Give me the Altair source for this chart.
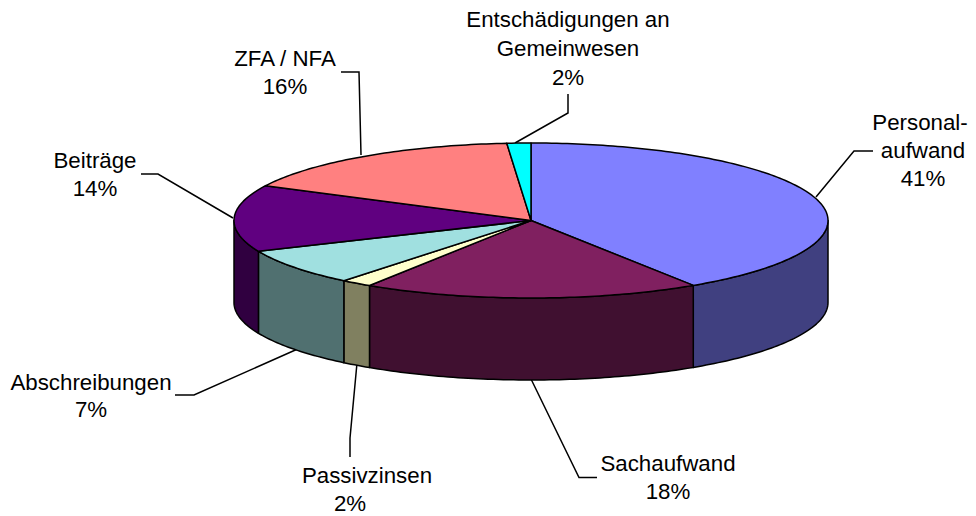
import math
import altair as alt
import pandas as pd

# Data
categories = ["Personalaufwand", "Sachaufwand", "Passivzinsen", "Abschreibungen",
              "Beiträge", "ZFA / NFA", "Entschädigungen an Gemeinwesen"]
shares = [40.8, 18.35, 1.7, 7.65, 13.9, 16.3, 1.3]
top_colors = ["#8080FF", "#802060", "#FFFFCC", "#A0E0E0", "#600080", "#FF8080", "#00FFFF"]
side_colors = ["#404080", "#401030", "#808060", "#507070", "#300040", "#804040", "#008080"]
label_lines = ["Personal-", "aufwand", "41%", "Sachaufwand", "18%", "Passivzinsen", "2%",
               "Abschreibungen", "7%", "Beiträge", "14%", "ZFA / NFA", "16%",
               "Entschädigungen an", "Gemeinwesen", "2%"]

# Layout (page pixels)
CX, CY, RX, RY, DEPTH = 531, 220.5, 297, 77.5, 82
label_xy = [(920, 123), (923, 151), (923, 179), (668, 464), (668, 492), (367, 476), (350, 504),
            (91, 383), (91, 410), (95, 161), (95, 189), (285, 59), (285, 87),
            (568, 20), (568, 49), (568, 78)]
leaders = [[(816, 197), (854, 151), (873, 151)],
           [(531, 379), (579, 477.5), (597, 477.5)],
           [(357, 363), (350, 438), (350, 457)],
           [(310, 343.5), (194, 395), (175, 395)],
           [(233, 218), (158, 174), (141, 174)],
           [(361, 155), (359, 72), (341, 72)],
           [(515, 143), (568, 113), (568, 94)]]

xs = alt.X("x:Q", axis=None, scale=alt.Scale(domain=[8, 968]))
ys = alt.Y("y:Q", axis=None, scale=alt.Scale(domain=[516, 8]))


def rim(t, dy=0.0):
    return (CX + RX * math.sin(t), CY - RY * math.cos(t) + dy)


def arc_points(a, b, dy=0.0):
    n = max(2, int(abs(b - a) / math.radians(1)) + 1)
    return [rim(a + (b - a) * i / n, dy) for i in range(n + 1)]


def poly(points, fill, closed=True):
    df = pd.DataFrame({"x": [p[0] for p in points], "y": [p[1] for p in points],
                       "i": range(len(points))})
    if closed:
        mark = alt.Chart(df).mark_line(interpolate="linear-closed", fill=fill, stroke="black",
                                       strokeWidth=1.5, strokeJoin="round", clip=False)
    else:
        mark = alt.Chart(df).mark_line(stroke="black", strokeWidth=1.5, strokeJoin="miter")
    return mark.encode(x=xs, y=ys, order="i:Q")


bounds = [0.0]
for s in shares:
    bounds.append(bounds[-1] + s / sum(shares) * 2 * math.pi)

layers = []
for pts in leaders:
    layers.append(poly(pts, None, closed=False))

# visible rim: the front half of the disc
for k in range(len(shares)):
    a, b = max(bounds[k], math.pi / 2), min(bounds[k + 1], 3 * math.pi / 2)
    if a < b:
        layers.append(poly(arc_points(a, b) + arc_points(b, a, DEPTH), side_colors[k]))

# top of the disc
for k in range(len(shares)):
    layers.append(poly([(CX, CY)] + arc_points(bounds[k], bounds[k + 1]), top_colors[k]))

labels = pd.DataFrame({"t": label_lines, "x": [p[0] for p in label_xy], "y": [p[1] for p in label_xy]})
layers.append(alt.Chart(labels).mark_text(font="Liberation Sans", fontSize=22.3, color="black",
                                          align="center", baseline="middle")
              .encode(x=xs, y=ys, text="t:N"))

chart = alt.layer(*layers).properties(
    width=960, height=508, padding=0, background="white",
    autosize=alt.AutoSizeParams(type="none"),
).configure_view(stroke=None)

chart.save("out.html", embed_options={"renderer": "svg", "actions": False})
